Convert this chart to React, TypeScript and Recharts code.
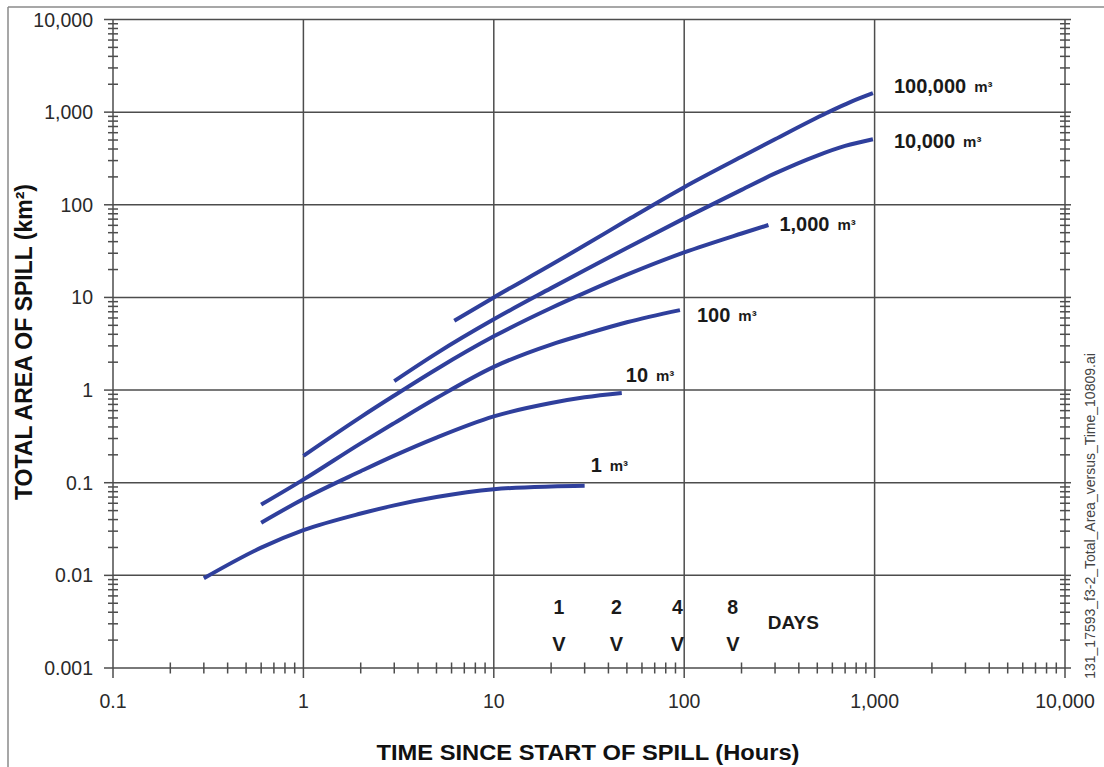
import React from "react";
import { LineChart, Line, XAxis, YAxis, ReferenceLine, ReferenceDot } from "recharts";

// ---------- data ----------
const xMajorTicks = [0.1, 1, 10, 100, 1000, 10000];
const yMajorTicks = [0.001, 0.01, 0.1, 1, 10, 100, 1000, 10000];
const minorMultipliers = [2, 3, 4, 5, 6, 7, 8, 9];

const spill1m3 = [
  { t: 0.3, a: 0.0093 }, { t: 0.6, a: 0.0199 }, { t: 1, a: 0.0307 }, { t: 2, a: 0.0465 },
  { t: 3, a: 0.057 }, { t: 5, a: 0.07 }, { t: 10, a: 0.085 }, { t: 20, a: 0.091 }, { t: 30, a: 0.0925 },
];
const spill10m3 = [
  { t: 0.6, a: 0.037 }, { t: 1, a: 0.0667 }, { t: 2, a: 0.133 }, { t: 3, a: 0.196 },
  { t: 5, a: 0.307 }, { t: 10, a: 0.52 }, { t: 20, a: 0.725 }, { t: 30, a: 0.835 }, { t: 47, a: 0.93 },
];
const spill100m3 = [
  { t: 0.6, a: 0.058 }, { t: 1, a: 0.108 }, { t: 2, a: 0.266 }, { t: 3, a: 0.44 }, { t: 5, a: 0.82 },
  { t: 10, a: 1.78 }, { t: 20, a: 3.1 }, { t: 30, a: 4.0 }, { t: 50, a: 5.4 }, { t: 95, a: 7.3 },
];
const spill1000m3 = [
  { t: 1, a: 0.195 }, { t: 2, a: 0.511 }, { t: 3, a: 0.873 }, { t: 5, a: 1.68 }, { t: 10, a: 3.8 },
  { t: 20, a: 7.7 }, { t: 30, a: 11.2 }, { t: 50, a: 17.6 }, { t: 100, a: 30.6 }, { t: 200, a: 49 }, { t: 277, a: 60.5 },
];
const spill10000m3 = [
  { t: 3, a: 1.25 }, { t: 5, a: 2.49 }, { t: 10, a: 5.8 }, { t: 20, a: 12.6 }, { t: 30, a: 19.7 },
  { t: 50, a: 34.2 }, { t: 100, a: 71.3 }, { t: 200, a: 145 }, { t: 300, a: 218 }, { t: 500, a: 340 },
  { t: 700, a: 432 }, { t: 980, a: 510 },
];
const spill100000m3 = [
  { t: 6.2, a: 5.6 }, { t: 10, a: 10 }, { t: 20, a: 22.5 }, { t: 30, a: 36.5 }, { t: 50, a: 68 },
  { t: 100, a: 155 }, { t: 200, a: 330 }, { t: 300, a: 510 }, { t: 560, a: 980 }, { t: 750, a: 1290 },
  { t: 980, a: 1600 },
];

const seriesNames = ["1", "10", "100", "1,000", "10,000", "100,000"];
const seriesData = [spill1m3, spill10m3, spill100m3, spill1000m3, spill10000m3, spill100000m3];

// curve label offsets from the curve end (pixels, style only)
const labelOffsets = [
  { dx: 6, dy: -21 },
  { dx: 4, dy: -18 },
  { dx: 17, dy: 5 },
  { dx: 11, dy: -1.5 },
  { dx: 21, dy: 2 },
  { dx: 21, dy: -7 },
];

// day markers (hours on x axis)
const dayLabels = ["1", "2", "4", "8"];
const dayHours = [22, 44, 92, 180];
const dayNumberY = 0.0045;
const dayArrowY = 0.0018;
const daysTextPos = { t: 275, a: 0.0031 };

// ---------- style ----------
const FONT = "'Liberation Sans', Arial, Helvetica, sans-serif";
const GRID = "#4d4d4d";
const BLUE = "#2f3f9c";

const buildTicks = (majors: number[]) => {
  const out: number[] = [];
  majors.forEach((m, i) => {
    out.push(m);
    if (i < majors.length - 1) minorMultipliers.forEach((k) => out.push(+(m * k).toPrecision(6)));
  });
  return out;
};
const xTicks = buildTicks(xMajorTicks);
const yTicks = buildTicks(yMajorTicks);

const isMajor = (v: number, majors: number[]) => majors.some((m) => Math.abs(m - v) / m < 1e-6);
const fmt = (v: number) => (v >= 1000 ? v.toLocaleString("en-US") : String(v));

const BottomTick = (props: any) => {
  const { x, y, payload } = props;
  const major = isMajor(payload.value, xMajorTicks);
  return (
    <g>
      <line x1={x} x2={x} y1={y - (major ? 0 : 5.5)} y2={y + (major ? 10 : 5.5)} stroke={GRID} strokeWidth={1.5} />
      {major && (
        <text x={x} y={y + 33} textAnchor="middle" dominantBaseline="central" fontFamily={FONT} fontSize={19.5} fill="#2a2a2a">
          {fmt(payload.value)}
        </text>
      )}
    </g>
  );
};
const TopTick = (props: any) => {
  const { x, y, payload } = props;
  const major = isMajor(payload.value, xMajorTicks);
  return <line x1={x} x2={x} y1={y - (major ? 7 : 6)} y2={y + (major ? 0 : 6)} stroke={GRID} strokeWidth={1.5} />;
};
const LeftTick = (props: any) => {
  const { x, y, payload } = props;
  const major = isMajor(payload.value, yMajorTicks);
  return (
    <g>
      <line x1={x - (major ? 9 : 5)} x2={x + (major ? 0 : 5)} y1={y} y2={y} stroke={GRID} strokeWidth={1.5} />
      {major && (
        <text x={x - 20} y={y} textAnchor="end" dominantBaseline="central" fontFamily={FONT} fontSize={19.5} fill="#2a2a2a">
          {fmt(payload.value)}
        </text>
      )}
    </g>
  );
};
const RightTick = (props: any) => {
  const { x, y, payload } = props;
  const major = isMajor(payload.value, yMajorTicks);
  return <line x1={x - (major ? 0 : 5)} x2={x + (major ? 6 : 5)} y1={y} y2={y} stroke={GRID} strokeWidth={1.5} />;
};

const makeCurveLabel = (name: string, dx: number, dy: number) => (p: any) => (
  <text x={p.cx + dx} y={p.cy + dy} dominantBaseline="central" fontFamily={FONT} fontWeight="bold" fill="#1a1a1a">
    <tspan fontSize={20}>{name}</tspan>
    <tspan fontSize={15} dx={8}>m³</tspan>
  </text>
);
const makeText = (txt: string, size: number, anchor: string) => (p: any) => (
  <text x={p.cx} y={p.cy} textAnchor={anchor as any} dominantBaseline="central" fontFamily={FONT} fontWeight="bold" fontSize={size} fill="#1a1a1a">
    {txt}
  </text>
);

export default function App() {
  const xDomain: [number, number] = [0.1, 10000];
  const yDomain: [number, number] = [0.001, 10000];
  return (
    <div style={{ position: "absolute", left: 0, top: 0, width: 1104, height: 767, background: "#fff" }}>
      <LineChart width={1104} height={767} margin={{ top: 0, right: 0, bottom: 0, left: 0 }}>
        <XAxis
          xAxisId="bottom"
          dataKey="t"
          type="number"
          scale="log"
          domain={xDomain}
          allowDataOverflow
          ticks={xTicks}
          interval={0}
          height={99}
          tickSize={0}
          tickMargin={0}
          tick={<BottomTick />}
          axisLine={{ stroke: GRID, strokeWidth: 1.5 }}
        />
        <XAxis
          xAxisId="top"
          orientation="top"
          type="number"
          scale="log"
          domain={xDomain}
          allowDataOverflow
          ticks={xTicks}
          interval={0}
          height={19.5}
          tickSize={0}
          tickMargin={0}
          tick={<TopTick />}
          axisLine={{ stroke: GRID, strokeWidth: 1.5 }}
        />
        <YAxis
          yAxisId="left"
          type="number"
          scale="log"
          domain={yDomain}
          allowDataOverflow
          ticks={yTicks}
          interval={0}
          width={113}
          tickSize={0}
          tickMargin={0}
          tick={<LeftTick />}
          axisLine={{ stroke: GRID, strokeWidth: 1.5 }}
        />
        <YAxis
          yAxisId="right"
          orientation="right"
          type="number"
          scale="log"
          domain={yDomain}
          allowDataOverflow
          ticks={yTicks}
          interval={0}
          width={39}
          tickSize={0}
          tickMargin={0}
          tick={<RightTick />}
          axisLine={{ stroke: GRID, strokeWidth: 1.5 }}
        />
        {xMajorTicks.slice(1, -1).map((v) => (
          <ReferenceLine key={"vx" + v} x={v} xAxisId="bottom" yAxisId="left" stroke={GRID} strokeWidth={1.5} />
        ))}
        {yMajorTicks.slice(1, -1).map((v) => (
          <ReferenceLine key={"hy" + v} y={v} xAxisId="bottom" yAxisId="left" stroke={GRID} strokeWidth={1.5} />
        ))}
        {seriesData.map((d, i) => (
          <Line
            key={seriesNames[i]}
            data={d}
            dataKey="a"
            xAxisId="bottom"
            yAxisId="left"
            type="monotone"
            stroke={BLUE}
            strokeWidth={4}
            strokeLinecap="butt"
            dot={false}
            activeDot={false}
            isAnimationActive={false}
          />
        ))}
        {seriesData.map((d, i) => (
          <ReferenceDot
            key={"lbl" + i}
            x={d[d.length - 1].t}
            y={d[d.length - 1].a}
            xAxisId="bottom"
            yAxisId="left"
            r={0}
            shape={makeCurveLabel(seriesNames[i], labelOffsets[i].dx, labelOffsets[i].dy)}
          />
        ))}
        {dayHours.map((h, i) => (
          <ReferenceDot key={"dn" + i} x={h} y={dayNumberY} xAxisId="bottom" yAxisId="left" r={0} shape={makeText(dayLabels[i], 19.5, "middle")} />
        ))}
        {dayHours.map((h, i) => (
          <ReferenceDot key={"dv" + i} x={h} y={dayArrowY} xAxisId="bottom" yAxisId="left" r={0} shape={makeText("V", 20, "middle")} />
        ))}
        <ReferenceDot x={daysTextPos.t} y={daysTextPos.a} xAxisId="bottom" yAxisId="left" r={0} shape={makeText("DAYS", 19, "start")} />
      </LineChart>
      <svg width={1104} height={767} style={{ position: "absolute", left: 0, top: 0, pointerEvents: "none" }}>
        <line x1={8} y1={7} x2={1104} y2={7} stroke="#8a8a8a" strokeWidth={1.5} />
        <line x1={8} y1={7} x2={8} y2={767} stroke="#8a8a8a" strokeWidth={1.5} />
        <text
          x={588}
          y={752}
          textAnchor="middle"
          dominantBaseline="central"
          fontFamily={FONT}
          fontWeight="bold"
          fontSize={22}
          fill="#111"
          textLength={423}
          lengthAdjust="spacingAndGlyphs"
        >
          TIME SINCE START OF SPILL (Hours)
        </text>
        <text
          x={0}
          y={0}
          transform="translate(24,342) rotate(-90)"
          textAnchor="middle"
          dominantBaseline="central"
          fontFamily={FONT}
          fontWeight="bold"
          fontSize={23}
          fill="#111"
        >
          TOTAL AREA OF SPILL (km²)
        </text>
        <text
          x={0}
          y={0}
          transform="translate(1090,516) rotate(-90)"
          textAnchor="middle"
          dominantBaseline="central"
          fontFamily={FONT}
          fontSize={14}
          fill="#444"
        >
          131_17593_f3-2_Total_Area_versus_Time_10809.ai
        </text>
      </svg>
    </div>
  );
}
